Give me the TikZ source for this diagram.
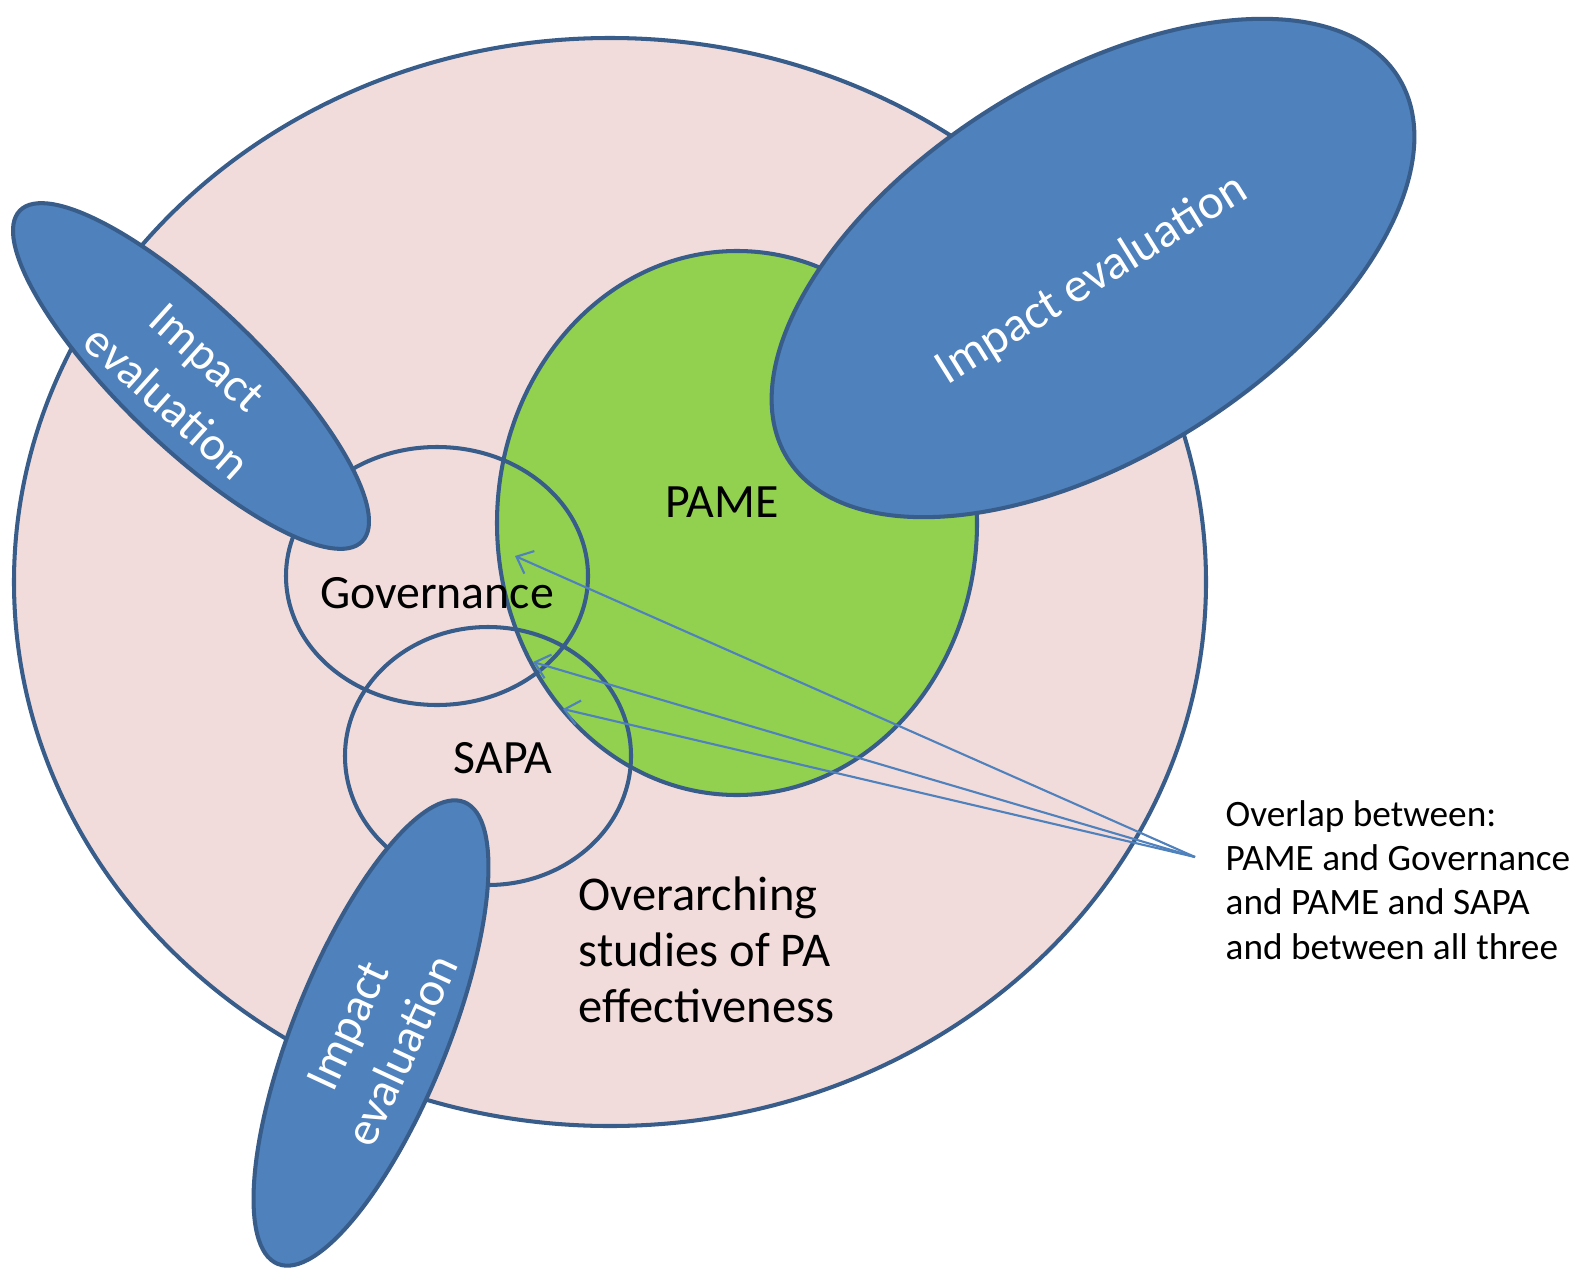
\documentclass[tikz,border=0pt]{standalone}
\usepackage{fontspec}
\setmainfont{Carlito}
\usetikzlibrary{arrows.meta}
\definecolor{pinkfill}{HTML}{F2DCDB}
\definecolor{outl}{HTML}{385D8A}
\definecolor{bluefill}{HTML}{4F81BD}
\definecolor{greenfill}{HTML}{92D050}
\begin{document}
\begin{tikzpicture}[x=0.01cm,y=-0.01cm,
  venn/.style={draw=outl,line width=1.15pt},
  arr/.style={draw=bluefill,line width=0.6pt,-{Straight Barb[length=4pt,width=7pt]}},
  lbl/.style={inner sep=0pt,text=black,font=\fontsize{13.6}{16}\selectfont},
  wlbl/.style={inner sep=0pt,text=white,align=center,font=\fontsize{13.7}{17}\selectfont}]
\useasboundingbox (0,0) rectangle (1576,1273);
\fill[white] (0,0) rectangle (1576,1273);
% main shapes
\draw[venn,fill=pinkfill] (610,582) ellipse (596 and 544);
\draw[venn,fill=greenfill] (737,523) ellipse (240 and 272);
\draw[venn] (437,576) ellipse (151 and 129);
\draw[venn] (488,756) ellipse (143 and 129);
\draw[venn,fill=bluefill,rotate around={32:(1093,268)}] (1093,268) ellipse (360 and 189);
\draw[venn,fill=bluefill,rotate around={-44:(191,376)}] (191,376) ellipse (238 and 70);
\draw[venn,fill=bluefill,rotate around={68:(371,1033)}] (371,1033) ellipse (249 and 77);
% arrows
\coordinate (src) at (1195,857);
\coordinate (t1) at (515,556);
\coordinate (t2) at (533,662);
\coordinate (t3) at (563,709);
\draw[arr] (src) -- (t1);
\draw[arr] (src) -- (t2);
\draw[arr] (src) -- (t3);
% labels
\node[lbl] (pame) at (722,502) {PAME};
\node[lbl] (gov) at (437,593) {Governance};
\node[lbl] (sapa) at (503,758) {SAPA};
\node[lbl,anchor=west,align=left,font=\fontsize{13.8}{15.9}\selectfont] (over) at (578,950)
  {Overarching\\studies of PA\\effectiveness};
\node[lbl,anchor=west,align=left,font=\fontsize{10.6}{12.6}\selectfont] (ovl) at (1225,880)
  {Overlap between:\\PAME and Governance\\and PAME and SAPA\\and between all three};
\node[wlbl,rotate=32,font=\fontsize{13.9}{17}\selectfont] (ie1) at (1092,280) {Impact evaluation};
\node[wlbl,rotate=-42] (ie2) at (187,380) {Impact\\evaluation};
\node[wlbl,rotate=65] (ie3) at (375,1038) {Impact\\evaluation};
\end{tikzpicture}
\end{document}
